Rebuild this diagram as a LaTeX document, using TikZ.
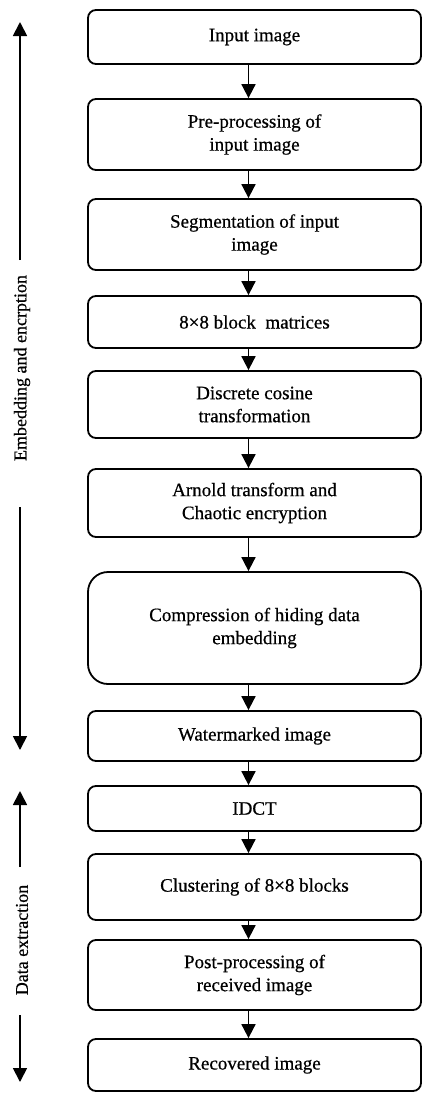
\documentclass[tikz,border=0pt]{standalone}
\usepackage{fontspec}
\setmainfont{Liberation Serif}[FakeBold=0.6]
\usetikzlibrary{arrows.meta}
\begin{document}
\begin{tikzpicture}[x=1pt,y=-1pt,
  stepbox/.style={draw,line width=1.8pt,rounded corners=8pt,minimum width=333pt,
    inner sep=0pt,align=center,font=\fontsize{19}{23}\selectfont},
  flow/.style={line width=1.8pt,-{Triangle[length=14pt,width=14pt]}},
  sidelab/.style={rotate=90,inner sep=0pt,font=\fontsize{18}{22}\selectfont}]
\useasboundingbox (0,0) rectangle (423,1093);
\node[stepbox,minimum height=54pt] (b1) at (254.5,37) {Input image};
\node[stepbox,minimum height=71pt] (b2) at (254.5,134.5) {Pre-processing of\\input image};
\node[stepbox,minimum height=71pt] (b3) at (254.5,234.5) {Segmentation of input\\image};
\node[stepbox,minimum height=52pt] (b4) at (254.5,322) {8×8 block\ \ matrices};
\node[stepbox,minimum height=67pt] (b5) at (254.5,404.5) {Discrete cosine\\transformation};
\node[stepbox,minimum height=68pt] (b6) at (254.5,503) {Arnold transform and\\Chaotic encryption};
\node[stepbox,minimum height=112pt,rounded corners=20pt] (b7) at (254.5,628) {Compression of hiding data\\embedding};
\node[stepbox,minimum height=50pt] (b8) at (254.5,736) {Watermarked image};
\node[stepbox,minimum height=45pt] (b9) at (254.5,808.5) {IDCT};
\node[stepbox,minimum height=66pt] (b10) at (254.5,887) {Clustering of 8×8 blocks};
\node[stepbox,minimum height=70pt] (b11) at (254.5,975) {Post-processing of\\received image};
\node[stepbox,minimum height=52pt] (b12) at (254.5,1065) {Recovered image};
\foreach \a/\b in {b1/b2,b2/b3,b3/b4,b4/b5,b5/b6,b6/b7,b7/b8,b8/b9,b9/b10,b10/b11,b11/b12}
  \draw[flow] ([xshift=-6pt]\a.south) -- ([xshift=-6pt]\b.north);
\node[sidelab] (emb) at (22,368) {Embedding and encrption};
\node[sidelab] (ext) at (22,940) {Data extraction};
\coordinate (e1) at (20,22);
\coordinate (e2) at (20,260);
\coordinate (e3) at (20,507);
\coordinate (e4) at (20,750);
\coordinate (d1) at (20,791);
\coordinate (d2) at (20,867);
\coordinate (d3) at (20,1015);
\coordinate (d4) at (20,1082);
\draw[flow] (e2) -- (e1);
\draw[flow] (e3) -- (e4);
\draw[flow] (d2) -- (d1);
\draw[flow] (d3) -- (d4);
\end{tikzpicture}
\end{document}
